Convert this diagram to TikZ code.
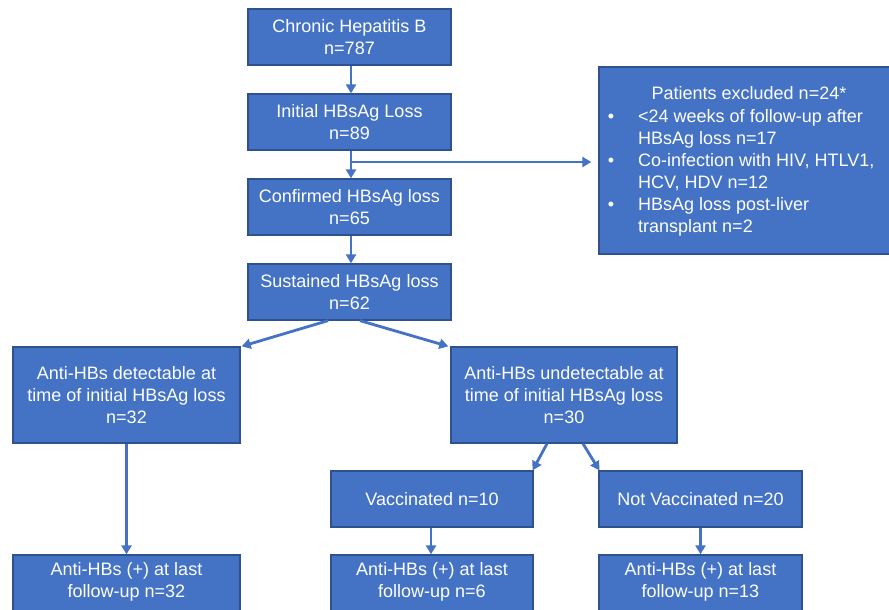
\documentclass[tikz,border=0pt]{standalone}
\usepackage{fontspec}
\setmainfont{Liberation Sans}
\usetikzlibrary{arrows.meta}
\definecolor{boxfill}{HTML}{4472C4}
\definecolor{boxline}{HTML}{2F528F}
\definecolor{arrowc}{HTML}{4472C4}
\begin{document}
\begin{tikzpicture}[x=1pt,y=-1pt,
  box/.style={draw=boxline, line width=1.3pt, fill=boxfill, text=white, align=center,
    font=\fontsize{18}{22}\selectfont, inner sep=0pt},
  txt/.style={text=white, font=\fontsize{18}{22}\selectfont, inner sep=0pt, align=center},
  conn/.style={draw=arrowc, line width=2.8pt, -{Triangle[width=10pt,length=9pt]}}
]
\useasboundingbox (0,0) rectangle (889,610);
\clip (0,0) rectangle (889,610);

\node[box, minimum width=203pt, minimum height=56pt] (b1) at (349.5,37) {Chronic Hepatitis B\\n=787};
\node[box, minimum width=203pt, minimum height=56pt] (b2) at (349.5,122) {Initial HBsAg Loss\\n=89};
\node[box, minimum width=203pt, minimum height=56pt] (b3) at (349.5,207) {Confirmed HBsAg loss\\n=65};
\node[box, minimum width=203pt, minimum height=56pt] (b4) at (349.5,292) {Sustained HBsAg loss\\n=62};

\node[box, minimum width=227pt, minimum height=96pt] (b5) at (126.5,395) {Anti-HBs detectable at\\time of initial HBsAg loss\\n=32};
\node[box, minimum width=226pt, minimum height=96pt] (b6) at (564,395) {Anti-HBs undetectable at\\time of initial HBsAg loss\\n=30};

\node[box, minimum width=202pt, minimum height=56pt] (vac) at (432,499) {Vaccinated n=10};
\node[box, minimum width=203pt, minimum height=56pt] (nvac) at (700.5,499) {Not Vaccinated n=20};

\node[box, minimum width=227pt, minimum height=64pt] (c1) at (126.5,587) {};
\node[box, minimum width=202pt, minimum height=64pt] (c2) at (432,587) {};
\node[box, minimum width=203pt, minimum height=64pt] (c3) at (700.5,587) {};
\node[txt] (t1) at (126.5,582) {Anti-HBs (+) at last\\follow-up n=32};
\node[txt] (t2) at (432,582) {Anti-HBs (+) at last\\follow-up n=6};
\node[txt] (t3) at (700.5,582) {Anti-HBs (+) at last\\follow-up n=13};

% excluded box
\node[box, minimum width=296pt, minimum height=187pt] (ex) at (747,160.5) {};
\node[txt, anchor=base] (ext) at (749,99.5) {Patients excluded n=24*};
\node[txt, anchor=base] (bu1) at (611,122.5) {•};
\node[txt, anchor=base west] (l1) at (638,122.5) {<24 weeks of follow-up after};
\node[txt, anchor=base west] (l2) at (638,144.5) {HBsAg loss n=17};
\node[txt, anchor=base] (bu2) at (611,166.5) {•};
\node[txt, anchor=base west] (l3) at (638,166.5) {Co-infection with HIV, HTLV1,};
\node[txt, anchor=base west] (l4) at (638,188.5) {HCV, HDV n=12};
\node[txt, anchor=base] (bu3) at (611,210.5) {•};
\node[txt, anchor=base west] (l5) at (638,210.5) {HBsAg loss post-liver};
\node[txt, anchor=base west] (l6) at (638,232.5) {transplant n=2};

% connectors
\coordinate (br) at (351,162);
\draw[conn] ([xshift=1.5pt]b1.south) -- ([xshift=1.5pt]b2.north);
\draw[conn] ([xshift=1.5pt]b2.south) -- ([xshift=1.5pt]b3.north);
\draw[conn] ([xshift=1.5pt]b3.south) -- ([xshift=1.5pt]b4.north);
\draw[conn, shorten >=7pt] (br) -- (ex.west |- br);

\draw[conn] ([xshift=-21.5pt]b4.south) -- ([xshift=1pt]b5.north east);
\draw[conn] ([xshift=10.5pt]b4.south) -- ([xshift=-2pt]b6.north west);

\draw[conn] ([xshift=-17pt]b6.south) -- ([xshift=-1pt]vac.north east);
\draw[conn] ([xshift=19pt]b6.south) -- ([xshift=1pt]nvac.north west);

\draw[conn] (b5.south) -- (c1.north);
\draw[conn] ([xshift=-1pt]vac.south) -- ([xshift=-1pt]c2.north);
\draw[conn] (nvac.south) -- (c3.north);
\end{tikzpicture}
\end{document}
